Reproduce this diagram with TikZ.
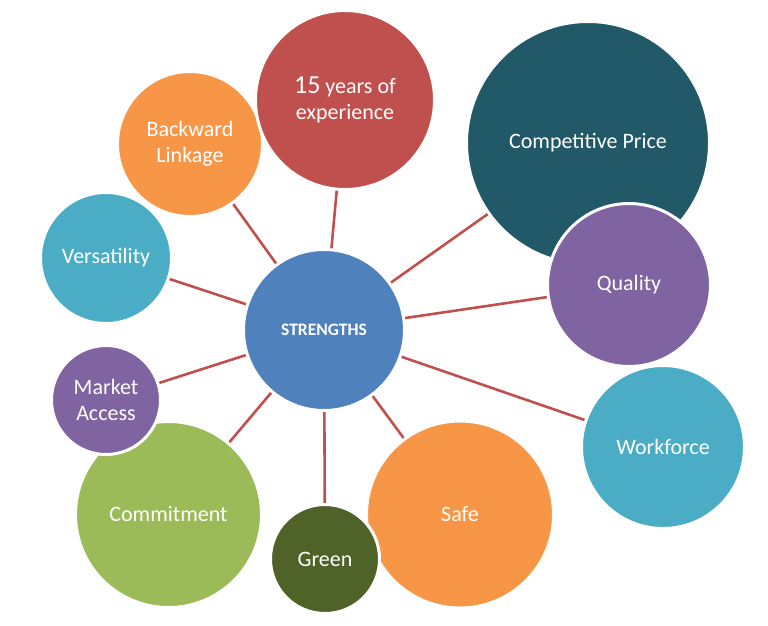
\documentclass[tikz,border=0pt]{standalone}
\usepackage{fontspec}
\setmainfont{Carlito}
\definecolor{cblue}{HTML}{4F81BD}
\definecolor{cred}{HTML}{C0504D}
\definecolor{corange}{HTML}{F79646}
\definecolor{caqua}{HTML}{4BACC6}
\definecolor{cpurple}{HTML}{8064A2}
\definecolor{cgreen}{HTML}{9BBB59}
\definecolor{cdkgreen}{HTML}{4F6228}
\definecolor{cteal}{HTML}{215968}
\definecolor{cline}{HTML}{C0504D}
\tikzset{
  bubble/.style={circle, inner sep=0pt, draw=white, line width=3pt, text=white,
     align=center, font=\fontsize{22}{26}\selectfont},
  spoke/.style={draw=cline, line width=2.6pt},
}
\begin{document}
\begin{tikzpicture}[x=1pt,y=-1pt]
\useasboundingbox (0,0) rectangle (768,625);
% centre coordinates
\coordinate (cS) at (324,330);
\coordinate (cComp) at (588,143);
\coordinate (cQual) at (629,285);
\coordinate (cWork) at (663,447);
\coordinate (cSafe) at (460,514.5);
\coordinate (cGreen) at (325,559);
\coordinate (cComm) at (168.5,514.5);
\coordinate (cMark) at (106,400);
\coordinate (cVers) at (106,258);
\coordinate (cBack) at (190,144);
\coordinate (cYears) at (345,100);
% spokes (hidden under the bubbles)
\foreach \c in {cComp,cQual,cWork,cSafe,cGreen,cComm,cMark,cVers,cBack,cYears}
  \draw[spoke] (cS) -- (\c);
% bubbles
\node[bubble, fill=cteal, minimum size=243pt] (comp) at (cComp) {Competitive Price};
\node[bubble, fill=cpurple, minimum size=163pt] (qual) at (cQual) {Quality};
\node[bubble, fill=caqua, minimum size=163pt] (work) at (cWork) {Workforce};
\node[bubble, fill=corange, minimum size=187pt] (safe) at (cSafe) {Safe};
\node[bubble, fill=cdkgreen, minimum size=109pt] (green) at (cGreen) {Green};
\node[bubble, fill=cgreen, minimum size=186pt] (comm) at (cComm) {Commitment};
\node[bubble, fill=cpurple, minimum size=109pt] (mark) at (cMark) {Market\\Access};
\node[bubble, fill=caqua, minimum size=131pt] (vers) at (cVers) {Versatility};
\node[bubble, fill=corange, minimum size=145pt] (back) at (cBack) {Backward\\Linkage};
\node[bubble, fill=cred, minimum size=179pt] (years) at (cYears) {{\fontsize{26}{26}\selectfont 15} years of\\experience};
\node[bubble, fill=cblue, minimum size=161pt, font=\bfseries\fontsize{17.5}{20}\selectfont] (str) at (cS) {STRENGTHS};
\end{tikzpicture}
\end{document}
